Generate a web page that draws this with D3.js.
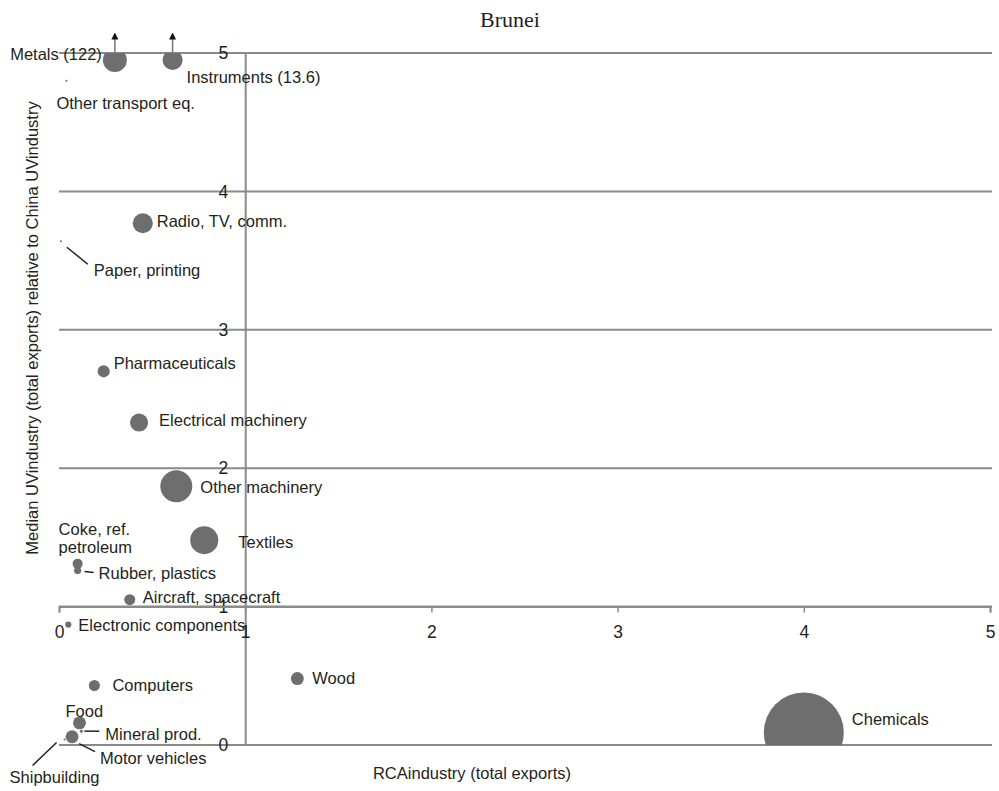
<!DOCTYPE html>
<html>
<head>
<meta charset="utf-8">
<script src="https://cdn.jsdelivr.net/npm/d3@7"></script>
<style>
  body { margin: 0; background: #fff; }
  text { font-family: 'Liberation Sans', Arial, sans-serif; fill: #231f20; }
</style>
</head>
<body>
<div id="main"></div>
<script>
// industries, RCA (x), relative unit value (y), bubble size
const industries = [
    'Metals', 'Instruments', 'Other transport eq.', 'Radio, TV, comm.', 'Paper, printing',
    'Pharmaceuticals', 'Electrical machinery', 'Other machinery', 'Textiles', 'Coke, ref. petroleum',
    'Rubber, plastics', 'Aircraft, spacecraft', 'Electronic components', 'Computers', 'Wood',
    'Food', 'Mineral prod.', 'Motor vehicles', 'Shipbuilding', 'Chemicals'
];
const rcaValues = [0.30, 0.61, 0.04, 0.45, 0.01, 0.24, 0.43, 0.63, 0.78, 0.10,
                   0.10, 0.38, 0.05, 0.19, 1.28, 0.11, 0.12, 0.07, 0.03, 4.00];
const uvValues  = [122, 13.6, 4.80, 3.77, 3.64, 2.70, 2.33, 1.87, 1.48, 1.31,
                   1.26, 1.05, 0.87, 0.43, 0.48, 0.16, 0.10, 0.06, 0.04, 0.09];
const bubbleSizes = [9.0, 6.3, 0.06, 6.3, 0.06, 2.3, 5.1, 16.0, 12.3, 1.6,
                     0.8, 1.9, 0.6, 1.9, 2.6, 2.6, 0.14, 2.6, 0.06, 100];
const xTicks = [0, 1, 2, 3, 4, 5];
const yTicks = [0, 1, 2, 3, 4, 5];
const yCap = 4.95;

const title = 'Brunei';
const xTitle = 'RCAindustry (total exports)';
const yTitle = 'Median UVindustry (total exports) relative to China UVindustry';

// label placement relative to each bubble: [dx, dy, anchor, leader]
const labelLayout = {
    'Metals':                 [-13, -6, 'end'],
    'Instruments':            [14, 17, 'start'],
    'Other transport eq.':    [-10, 23, 'start'],
    'Radio, TV, comm.':       [14, -2, 'start'],
    'Paper, printing':        [33, 29, 'start', [6, 6, 27, 23]],
    'Pharmaceuticals':        [10, -8, 'start'],
    'Electrical machinery':   [20, -2, 'start'],
    'Other machinery':        [24, 1, 'start'],
    'Textiles':               [34, 2, 'start'],
    'Coke, ref. petroleum':   [-19, -34, 'start'],
    'Rubber, plastics':       [21, 3, 'start', [7, 1, 16, 2]],
    'Aircraft, spacecraft':   [13, -2, 'start'],
    'Electronic components':  [10, 1, 'start'],
    'Computers':              [18, 0, 'start'],
    'Wood':                   [15, 0, 'start'],
    'Food':                   [-14, -12, 'start'],
    'Mineral prod.':          [24, 3, 'start', [3, 0, 18, 0]],
    'Motor vehicles':         [28, 22, 'start', [7, 7, 23, 15]],
    'Shipbuilding':           [-55, 38, 'start', [-8, 3, -32, 26]],
    'Chemicals':              [48, -13, 'start']
};

const width = 999, height = 791;
const margin = { top: 53, bottom: 46, left: 59, right: 9 };

const data = industries.map((name, i) => ({
    name: name, x: rcaValues[i], y: uvValues[i], size: bubbleSizes[i]
}));

const svg = d3.select('#main').append('svg').attr('width', width).attr('height', height);

const xScale = d3.scaleLinear().domain([0, 5]).range([margin.left, width - margin.right]);
const yScale = d3.scaleLinear().domain([0, 5]).range([height - margin.bottom, margin.top]);
const rScale = d3.scaleSqrt().domain([0, d3.max(bubbleSizes)]).range([0, 40]);

const lineColor = '#8a8a8a';

svg.append('defs').append('clipPath').attr('id', 'plotclip')
    .append('rect')
    .attr('x', xScale(0)).attr('y', yScale(5))
    .attr('width', xScale(5) - xScale(0)).attr('height', yScale(0) - yScale(5));

svg.append('defs').append('marker')
    .attr('id', 'arrowhead')
    .attr('viewBox', '0 0 10 10')
    .attr('refX', 5).attr('refY', 5)
    .attr('markerWidth', 7).attr('markerHeight', 8)
    .attr('markerUnits', 'userSpaceOnUse')
    .attr('orient', 'auto')
    .append('path').attr('d', 'M0,0 L10,5 L0,10 Z').style('fill', '#111');

// horizontal grid lines
svg.append('g').selectAll('line')
    .data(yTicks)
    .enter().append('line')
    .attr('x1', xScale(0)).attr('x2', xScale(5) + 2)
    .attr('y1', d => yScale(d)).attr('y2', d => yScale(d))
    .style('stroke', lineColor).style('stroke-width', 2);

// y axis crosses at x = 1
const yAxis = svg.append('g')
    .attr('transform', `translate(${xScale(1)},0)`)
    .call(d3.axisLeft(yScale).tickValues(yTicks).tickSize(0).tickPadding(17).tickFormat(d3.format('d')));
yAxis.select('.domain').style('stroke', lineColor).style('stroke-width', 2);
yAxis.selectAll('text').style('font-size', '17.5px').style('font-family', null);

// x axis crosses at y = 1
const xAxis = svg.append('g')
    .attr('transform', `translate(0,${yScale(1)})`)
    .call(d3.axisBottom(xScale).tickValues(xTicks).tickSizeOuter(0).tickSize(6).tickFormat(d3.format('d')));
xAxis.select('.domain').style('stroke', lineColor).style('stroke-width', 2);
xAxis.selectAll('.tick line').style('stroke', lineColor).style('stroke-width', 1.5);
xAxis.selectAll('text').attr('y', 25).attr('dy', '0.35em').style('font-size', '17.5px').style('font-family', null);

// bubbles
const px = d => xScale(d.x);
const py = d => yScale(Math.min(d.y, yCap));

svg.append('g')
    .attr('clip-path', 'url(#plotclip)')
    .selectAll('circle')
    .data(data)
    .enter().append('circle')
    .attr('cx', px)
    .attr('cy', py)
    .attr('r', d => Math.max(rScale(d.size), 1))
    .style('fill', '#6e6e6e');

// arrows for values off the chart
svg.append('g').selectAll('line')
    .data(data.filter(d => d.y > 5))
    .enter().append('line')
    .attr('x1', px).attr('x2', px)
    .attr('y1', d => py(d) - 3)
    .attr('y2', d => yScale(5) - 17)
    .attr('marker-end', 'url(#arrowhead)')
    .style('stroke', '#777').style('stroke-width', 1.5);

// leader lines
svg.append('g').selectAll('line')
    .data(data.filter(d => labelLayout[d.name][3]))
    .enter().append('line')
    .attr('x1', d => px(d) + labelLayout[d.name][3][0])
    .attr('y1', d => py(d) + labelLayout[d.name][3][1])
    .attr('x2', d => px(d) + labelLayout[d.name][3][2])
    .attr('y2', d => py(d) + labelLayout[d.name][3][3])
    .style('stroke', '#222').style('stroke-width', 1.5);

// labels
const labelText = d => {
    if (d.y > 5) return `${d.name} (${d.y})`;
    return d.name;
};

svg.append('g').selectAll('text')
    .data(data)
    .enter().append('text')
    .attr('x', d => px(d) + labelLayout[d.name][0])
    .attr('y', d => py(d) + labelLayout[d.name][1])
    .attr('dy', '0.35em')
    .style('font-size', '16.5px')
    .style('text-anchor', d => labelLayout[d.name][2])
    .each(function(d) {
        const t = d3.select(this);
        if (d.name === 'Coke, ref. petroleum') {
            t.append('tspan').attr('x', px(d) + labelLayout[d.name][0]).text('Coke, ref.');
            t.append('tspan').attr('x', px(d) + labelLayout[d.name][0]).attr('dy', '1.05em').text('petroleum');
        } else {
            t.text(labelText(d));
        }
    });

// titles
svg.append('text')
    .attr('x', 510)
    .attr('y', 27)
    .style('font-family', "'Liberation Serif', 'Times New Roman', serif")
    .style('font-size', '22px')
    .style('text-anchor', 'middle')
    .text(title);

svg.append('text')
    .attr('x', 472)
    .attr('y', 779)
    .style('font-size', '16.5px')
    .style('text-anchor', 'middle')
    .text(xTitle);

svg.append('text')
    .attr('x', 38)
    .attr('y', 328)
    .style('font-size', '16.5px')
    .style('text-anchor', 'middle')
    .attr('transform', 'rotate(-90,38,328)')
    .text(yTitle);
</script>
</body>
</html>
